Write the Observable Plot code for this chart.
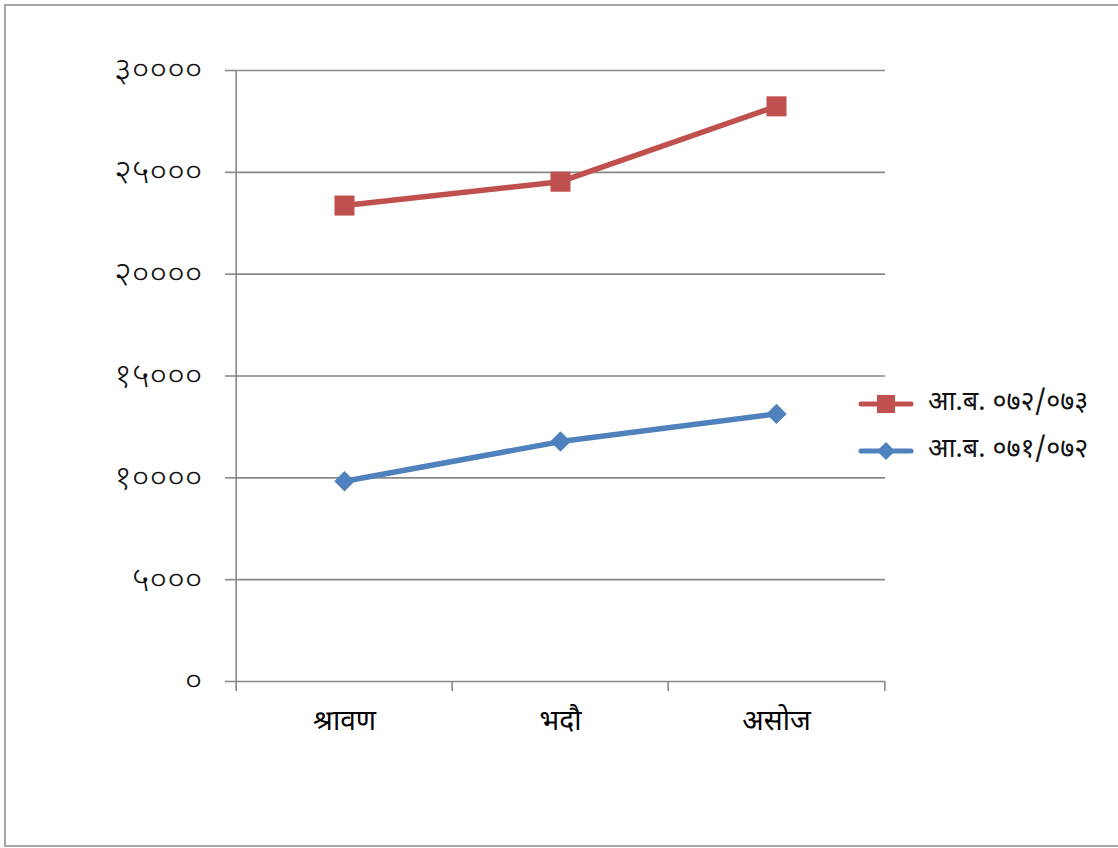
<!DOCTYPE html>
<html><head><meta charset="utf-8">
<script src="https://cdn.jsdelivr.net/npm/d3@7"></script>
<script src="https://cdn.jsdelivr.net/npm/@observablehq/plot@0.6"></script>
<style>
body{margin:0;background:#fff;}
#wrap{position:relative;width:1118px;height:848px;overflow:hidden;background:#fff;}
#border{position:absolute;left:4px;top:4px;width:1130px;height:843px;border:2px solid #a6a6a6;box-sizing:border-box;pointer-events:none;}
#chart{position:absolute;left:0;top:0;}
#legend{position:absolute;left:858px;top:380px;font-family:"Noto Sans Devanagari","Mangal","Noto Sans","Lato",sans-serif;font-size:27px;color:#111;}
.item{display:flex;align-items:center;height:47px;}
.item svg{margin-right:14px;}
</style></head>
<body>
<div id="wrap"><div id="chart"></div><div id="legend"></div><div id="border"></div></div>
<script>
const months = ["श्रावण", "भदौ", "असोज"];
const seriesNames = ["आ.ब. ०७२/०७३", "आ.ब. ०७१/०७२"];
const values073 = [23370, 24540, 28240];
const values072 = [9830, 11780, 13140];
const yTicks = [0, 5000, 10000, 15000, 20000, 25000, 30000];
const colors = ["#C0504D", "#4F81BD"];
const symbols = ["square", "diamond2"];

const devDigits = "०१२३४५६७८९";
const toDev = n => String(n).replace(/\d/g, d => devDigits[d]);

const data073 = months.map((m, i) => ({month: m, value: values073[i], series: seriesNames[0]}));
const data072 = months.map((m, i) => ({month: m, value: values072[i], series: seriesNames[1]}));
const data = data073.concat(data072);

const W = 1118, H = 848, ml = 235, mr = 233, mt = 70, mb = 167;
const step = (W - ml - mr) / months.length;
const first = [months[0]];
const inner = months.slice(1);
const last = [months[months.length - 1]];

const plot = Plot.plot({
  width: W, height: H,
  marginLeft: ml, marginRight: mr, marginTop: mt, marginBottom: mb,
  style: {background: "transparent", fontFamily: "'Noto Sans Devanagari', Mangal, 'Noto Sans', Lato, sans-serif"},
  x: {type: "point", domain: months, padding: 0.5},
  y: {domain: [0, 30000]},
  color: {domain: seriesNames, range: colors},
  symbol: {domain: seriesNames, range: symbols},
  marks: [
    Plot.gridY(yTicks, {stroke: "#888", strokeOpacity: 1, strokeWidth: 1.6}),
    Plot.ruleX(first, {x: d => d, dx: -step / 2, y1: 30000, y2: 0, insetBottom: -10, stroke: "#888", strokeWidth: 1.6}),
    Plot.ruleX(inner, {x: d => d, dx: -step / 2, y1: 0, y2: 0, insetBottom: -10, stroke: "#888", strokeWidth: 1.6}),
    Plot.ruleX(last, {x: d => d, dx: step / 2, y1: 0, y2: 0, insetBottom: -10, stroke: "#888", strokeWidth: 1.6}),
    Plot.axisY({ticks: yTicks, tickFormat: toDev, tickSize: 10, tickPadding: 23, stroke: "#888", strokeWidth: 1.6, fontSize: 34, fontWeight: 300, fill: "#111", label: null}),
    Plot.axisX({tickSize: 0, tickPadding: 29, fontSize: 28, fill: "#000", label: null}),
    Plot.line(data, {x: "month", y: "value", stroke: "series", z: "series", strokeWidth: 5.5}),
    Plot.dot(data073, {x: "month", y: "value", fill: colors[0], symbol: "square", r: 11.3, stroke: "none"}),
    Plot.dot(data072, {x: "month", y: "value", fill: colors[1], symbol: "diamond2", r: 9.2, stroke: "none"})
  ]
});
document.getElementById("chart").appendChild(plot);

const legend = document.getElementById("legend");
seriesNames.forEach((name, i) => {
  const div = document.createElement("div");
  div.className = "item";
  const sym = i === 0
    ? `<rect x="19" y="7" width="18" height="18" fill="${colors[i]}"/>`
    : `<path d="M28 7 L37 16 L28 25 L19 16 Z" fill="${colors[i]}"/>`;
  div.innerHTML = `<svg width="56" height="32"><line x1="3" y1="16" x2="53" y2="16" stroke="${colors[i]}" stroke-width="5" stroke-linecap="round"/>${sym}</svg><span>${name}</span>`;
  legend.appendChild(div);
});
</script>
</body></html>
